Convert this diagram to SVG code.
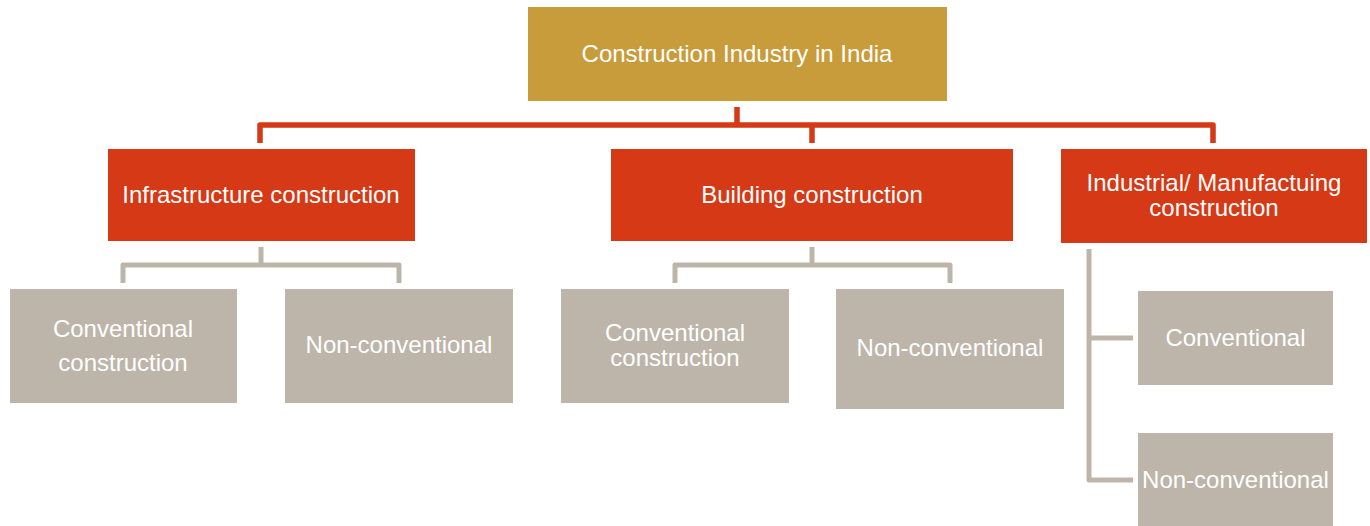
<svg xmlns="http://www.w3.org/2000/svg" width="1370" height="526" viewBox="0 0 1370 526">
<style>
text{font-family:"Liberation Sans",Arial,sans-serif;font-size:24px;fill:#ffffff;text-anchor:middle}
.gold{fill:#C89B3B}
.red{fill:#D53916}
.gray{fill:#BDB5A9}
.rc{fill:none;stroke:#D53916;stroke-width:5.5;stroke-linejoin:round}
.gc{fill:none;stroke:#BDB5A9;stroke-width:5;stroke-linejoin:round}
</style>
<rect width="1370" height="526" fill="#ffffff"/>
<g id="connectors">
<path class="rc" d="M737,107 V125"/>
<path class="rc" d="M260,143 V125 H1213 V143"/>
<path class="rc" d="M812,125 V143"/>
<path class="gc" d="M261,247 V265"/>
<path class="gc" d="M123,283 V265 H399 V283"/>
<path class="gc" d="M812,247 V265"/>
<path class="gc" d="M675,283 V265 H950 V283"/>
<path class="gc" d="M1089,249 V480 H1133"/>
<path class="gc" d="M1089,338 H1133"/>
</g>
<g id="root">
<rect class="gold" x="528" y="7" width="419" height="94"/>
<text x="737" y="62">Construction Industry in India</text>
</g>
<g id="infra">
<rect class="red" x="108" y="149" width="307" height="92"/>
<text x="261" y="203">Infrastructure construction</text>
</g>
<g id="building">
<rect class="red" x="611" y="149" width="402" height="92"/>
<text x="812" y="203">Building construction</text>
</g>
<g id="industrial">
<rect class="red" x="1061" y="149" width="306" height="94"/>
<text x="1214" y="190.5">Industrial/ Manufactuing<tspan x="1214" y="215.5">construction</tspan></text>
</g>
<g id="infra-conv">
<rect class="gray" x="10" y="289" width="227" height="114"/>
<text x="123" y="337">Conventional<tspan x="123" y="371">construction</tspan></text>
</g>
<g id="infra-nonconv">
<rect class="gray" x="285" y="289" width="228" height="114"/>
<text x="399" y="353">Non-conventional</text>
</g>
<g id="building-conv">
<rect class="gray" x="561" y="289" width="228" height="114"/>
<text x="675" y="341">Conventional<tspan x="675" y="366">construction</tspan></text>
</g>
<g id="building-nonconv">
<rect class="gray" x="836" y="289" width="228" height="120"/>
<text x="950" y="356">Non-conventional</text>
</g>
<g id="industrial-conv">
<rect class="gray" x="1138" y="291" width="195" height="94"/>
<text x="1235.5" y="346">Conventional</text>
</g>
<g id="industrial-nonconv">
<rect class="gray" x="1138" y="433" width="195" height="93"/>
<text x="1235.5" y="488">Non-conventional</text>
</g>
</svg>
